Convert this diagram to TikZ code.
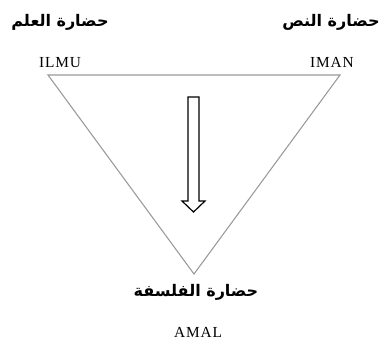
\documentclass[tikz,border=0pt]{standalone}
\usepackage{fontspec}
\setmainfont{Liberation Serif}
\newfontfamily\arabicfont[Script=Arabic]{DejaVu Sans}
\TeXXeTstate=1
\usepackage{tikz}

\begin{document}
\begin{tikzpicture}[
  x=0.75pt,y=-0.75pt,
  arb/.style={font=\arabicfont\bfseries\fontsize{12}{14}\selectfont,inner sep=0pt},
  lat/.style={font=\fontsize{11.5}{13}\selectfont\addfontfeatures{LetterSpace=6},inner sep=0pt,anchor=base},
  side/.style={draw=gray!80,line width=0.8pt,line join=miter}
]
  \useasboundingbox (0,0) rectangle (387,344);

  \coordinate (tl) at (48,75);
  \coordinate (tr) at (340,75);
  \coordinate (bt) at (194,274);
  \draw[side] (tl) -- (tr) -- (bt) -- cycle;

  \node[arb] (alm)  at (60,22)  {\beginR حضارة العلم\endR};
  \node[arb] (nas)  at (331,22) {\beginR حضارة النص\endR};
  \node[arb] (fal)  at (196,292) {\beginR حضارة الفلسفة\endR};

  \node[lat] (ilmu) at (60,67)  {ILMU};
  \node[lat] (iman) at (332,67) {IMAN};
  \node[lat] (amal) at (198,337) {AMAL};

  % hollow arrow
  \draw[line width=0.9pt,line join=miter] (188,97) -- (199,97) -- (199,201) -- (205,201)
    -- (193.5,212) -- (182,201) -- (188,201) -- cycle;
\end{tikzpicture}
\end{document}
